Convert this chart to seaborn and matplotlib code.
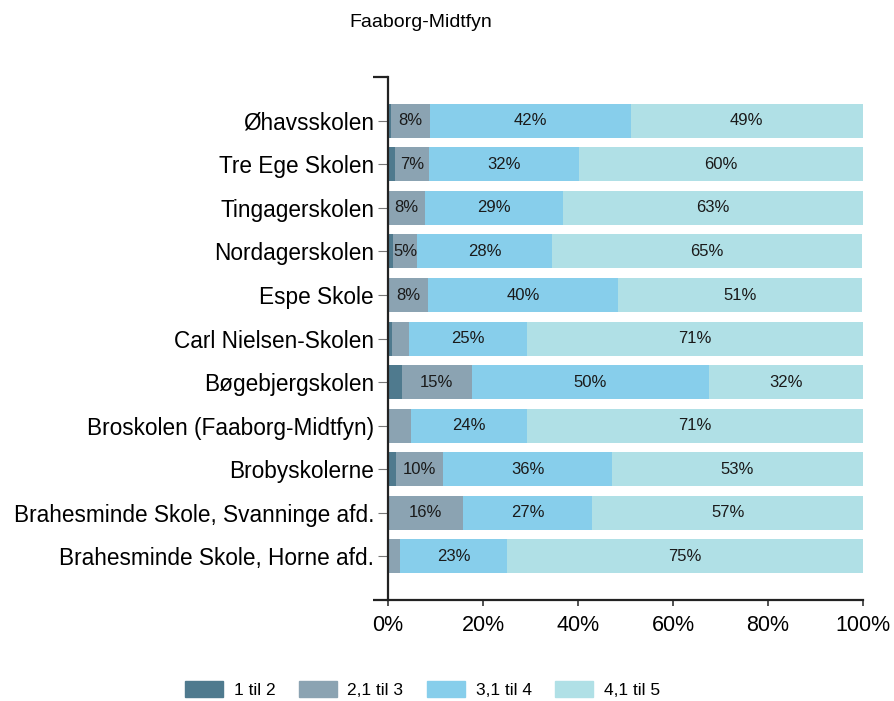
import matplotlib
matplotlib.use("Agg")
import matplotlib.pyplot as plt
import numpy as np
import pandas as pd
import seaborn as sns

# ── data (percent shares per school) ──
schools = [
    "Øhavsskolen",
    "Tre Ege Skolen",
    "Tingagerskolen",
    "Nordagerskolen",
    "Espe Skole",
    "Carl Nielsen-Skolen",
    "Bøgebjergskolen",
    "Broskolen (Faaborg-Midtfyn)",
    "Brobyskolerne",
    "Brahesminde Skole, Svanninge afd.",
    "Brahesminde Skole, Horne afd.",
]
groups = ["1 til 2", "2,1 til 3", "3,1 til 4", "4,1 til 5"]
g1 = [0.6, 1.5, 0.0, 1.0, 0.0, 0.9, 3.0, 0.0, 1.7, 0.0, 0.0]
g2 = [8.2, 7.2, 7.8, 5.2, 8.4, 3.5, 14.6, 4.8, 9.9, 15.8, 2.5]
g3 = [42.3, 31.6, 29.1, 28.3, 40.1, 24.9, 50.0, 24.5, 35.6, 27.2, 22.6]
g4 = [48.9, 59.7, 63.1, 65.4, 51.4, 70.7, 32.4, 70.7, 52.8, 57.0, 74.9]

colors = ["#4f7a8e", "#8ba3b2", "#87ceeb", "#b0e0e6"]

sns.set_style("white")
plt.rcParams["font.family"] = ["Liberation Sans", "DejaVu Sans"]
plt.rcParams["text.color"] = "black"
plt.rcParams["xtick.color"] = "black"
plt.rcParams["ytick.color"] = "black"

df = pd.DataFrame({"school": schools, groups[0]: g1, groups[1]: g2,
                   groups[2]: g3, groups[3]: g4})
cum = df[groups].cumsum(axis=1)

fig = plt.figure(figsize=(8.95, 7.01), dpi=100)
ax = fig.add_axes([0.4335, 0.144, 0.5307, 0.746])

# draw cumulative totals back to front so each stack shows its segments
for i in range(len(groups) - 1, -1, -1):
    sns.barplot(x=cum[groups[i]], y=df["school"], color=colors[i],
                orient="h", width=0.78, saturation=1, ax=ax,
                linewidth=0, label=groups[i])

# segment labels
starts = cum.shift(1, axis=1).fillna(0)
for j in range(len(schools)):
    for g in groups:
        val = df[g][j]
        if val >= 5:
            ax.text(starts[g][j] + val / 2, j, f"{val:.0f}%",
                    ha="center", va="center", fontsize=12, color="#1a1a1a")

ax.set_xlim(0, 100)
ax.set_ylim(len(schools), -1)
ax.set_xticks([0, 20, 40, 60, 80, 100])
ax.set_xticklabels([f"{t}%" for t in [0, 20, 40, 60, 80, 100]], fontsize=15.5)
ax.set_yticks([-1, len(schools)], minor=True)
ax.tick_params(axis="y", which="major", left=True, labelsize=16.3,
               length=7, color="#777777", pad=3)
ax.tick_params(axis="y", which="minor", left=True, length=11,
               width=1.6, color="#222222")
ax.tick_params(axis="x", bottom=True, length=4, width=1.2, color="#333333",
               pad=7)
ax.set_xlabel("")
ax.set_ylabel("")
sns.despine(ax=ax, top=True, right=True)
for side in ["left", "bottom"]:
    ax.spines[side].set_linewidth(1.6)
    ax.spines[side].set_color("#222222")
if ax.get_legend():
    ax.get_legend().remove()

fig.text(0.47, 0.968, "Faaborg-Midtfyn", ha="center", va="center", fontsize=14)

handles = [plt.Rectangle((0, 0), 1, 1, color=c) for c in colors]
fig.legend(handles, groups, loc="center", bbox_to_anchor=(0.472, 0.016),
           ncol=4, frameon=False, fontsize=12.5, handlelength=2.2,
           handleheight=1.0, handletextpad=0.6, columnspacing=1.35)

fig.savefig("out.png", dpi=100)
